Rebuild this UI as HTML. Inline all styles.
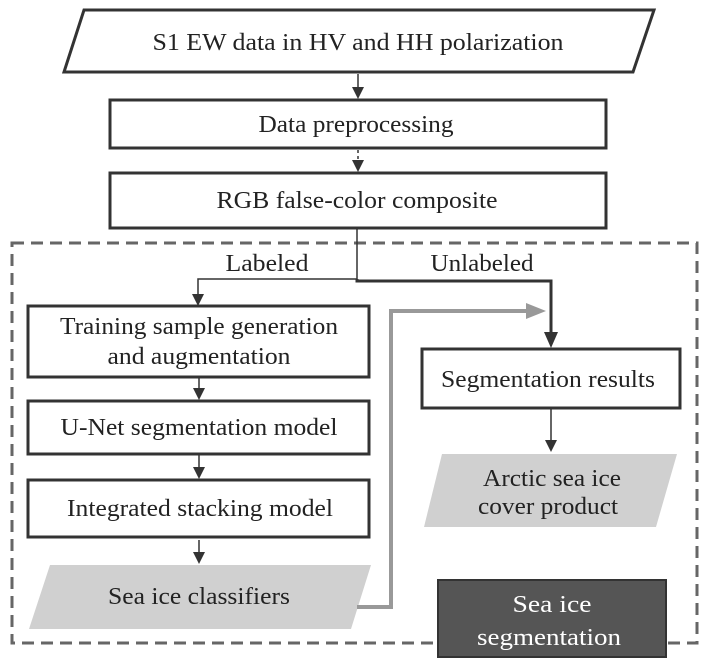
<!DOCTYPE html>
<html><head><meta charset="utf-8"><style>
html,body{margin:0;padding:0;background:#fff;}
svg{display:block;}
text{font-family:"Liberation Serif",serif;font-size:24px;fill:#222;text-anchor:middle;}
</style></head><body>
<svg width="708" height="666" viewBox="0 0 708 666" xmlns="http://www.w3.org/2000/svg">
<rect x="12" y="243" width="685" height="400" fill="none" stroke="#666" stroke-width="3" stroke-dasharray="12,7"/>
<polygon points="84,10 654,10 633,72 64,72" fill="#fff" stroke="#333" stroke-width="3"/>
<text x="358" y="50" textLength="411" lengthAdjust="spacingAndGlyphs">S1 EW data in HV and HH polarization</text>
<line x1="358" y1="74" x2="358" y2="92" stroke="#333" stroke-width="1.5"/>
<path d="M352,87 L364,87 L358,99 z" fill="#333"/>
<rect x="110" y="100" width="496" height="48" fill="#fff" stroke="#333" stroke-width="3"/>
<text x="356" y="132" textLength="195" lengthAdjust="spacingAndGlyphs">Data preprocessing</text>
<line x1="358" y1="150" x2="358" y2="166" stroke="#333" stroke-width="1.5" stroke-dasharray="3,3"/>
<path d="M352,160 L364,160 L358,172 z" fill="#333"/>
<rect x="110" y="173" width="496" height="55" fill="#fff" stroke="#333" stroke-width="3"/>
<text x="357" y="208" textLength="281" lengthAdjust="spacingAndGlyphs">RGB false-color composite</text>
<polyline points="357,229 357,279 198,279 198,298" fill="none" stroke="#333" stroke-width="1.5"/>
<path d="M192,294 L204,294 L198,306 z" fill="#333"/>
<polyline points="357,279 357,281 551,281 551,340" fill="none" stroke="#333" stroke-width="3"/>
<path d="M544,332 L558,332 L551,348 z" fill="#333"/>
<text x="267" y="271" textLength="83" lengthAdjust="spacingAndGlyphs">Labeled</text>
<text x="482" y="271" textLength="103" lengthAdjust="spacingAndGlyphs">Unlabeled</text>
<rect x="28" y="306" width="341" height="71" fill="#fff" stroke="#333" stroke-width="3"/>
<text x="199" y="334" textLength="278" lengthAdjust="spacingAndGlyphs">Training sample generation</text>
<text x="199" y="364" textLength="183" lengthAdjust="spacingAndGlyphs">and augmentation</text>
<line x1="199" y1="378" x2="199" y2="392" stroke="#333" stroke-width="1.5"/>
<path d="M193,388 L205,388 L199,400 z" fill="#333"/>
<rect x="28" y="401" width="341" height="53" fill="#fff" stroke="#333" stroke-width="3"/>
<text x="199" y="435" textLength="277" lengthAdjust="spacingAndGlyphs">U-Net segmentation model</text>
<line x1="199" y1="455" x2="199" y2="472" stroke="#333" stroke-width="1.5"/>
<path d="M193,467 L205,467 L199,479 z" fill="#333"/>
<rect x="28" y="480" width="341" height="57" fill="#fff" stroke="#333" stroke-width="3"/>
<text x="200" y="516" textLength="266" lengthAdjust="spacingAndGlyphs">Integrated stacking model</text>
<line x1="199" y1="540" x2="199" y2="556" stroke="#333" stroke-width="1.5"/>
<path d="M193,552 L205,552 L199,564 z" fill="#333"/>
<polygon points="50,565 371,565 351,629 29,629" fill="#d0d0d0"/>
<text x="199" y="604" textLength="182" lengthAdjust="spacingAndGlyphs">Sea ice classifiers</text>
<polyline points="357,607 391,607 391,311 530,311" fill="none" stroke="#999" stroke-width="4"/>
<path d="M526,303 L546,311 L526,319 z" fill="#999"/>
<rect x="422" y="349" width="258" height="59" fill="#fff" stroke="#333" stroke-width="3"/>
<text x="548" y="387" textLength="214" lengthAdjust="spacingAndGlyphs">Segmentation results</text>
<line x1="551" y1="409" x2="551" y2="444" stroke="#333" stroke-width="1.5"/>
<path d="M545,440 L557,440 L551,452 z" fill="#333"/>
<polygon points="442,454 677,454 656,527 424,527" fill="#d0d0d0"/>
<text x="552" y="486" textLength="138" lengthAdjust="spacingAndGlyphs">Arctic sea ice</text>
<text x="548" y="514" textLength="140" lengthAdjust="spacingAndGlyphs">cover product</text>
<rect x="438" y="580" width="228" height="77" fill="#555" stroke="#333" stroke-width="2"/>
<text x="552" y="612" textLength="79" lengthAdjust="spacingAndGlyphs" style="fill:#fff">Sea ice</text>
<text x="549" y="645" textLength="144" lengthAdjust="spacingAndGlyphs" style="fill:#fff">segmentation</text>
</svg>
</body></html>
